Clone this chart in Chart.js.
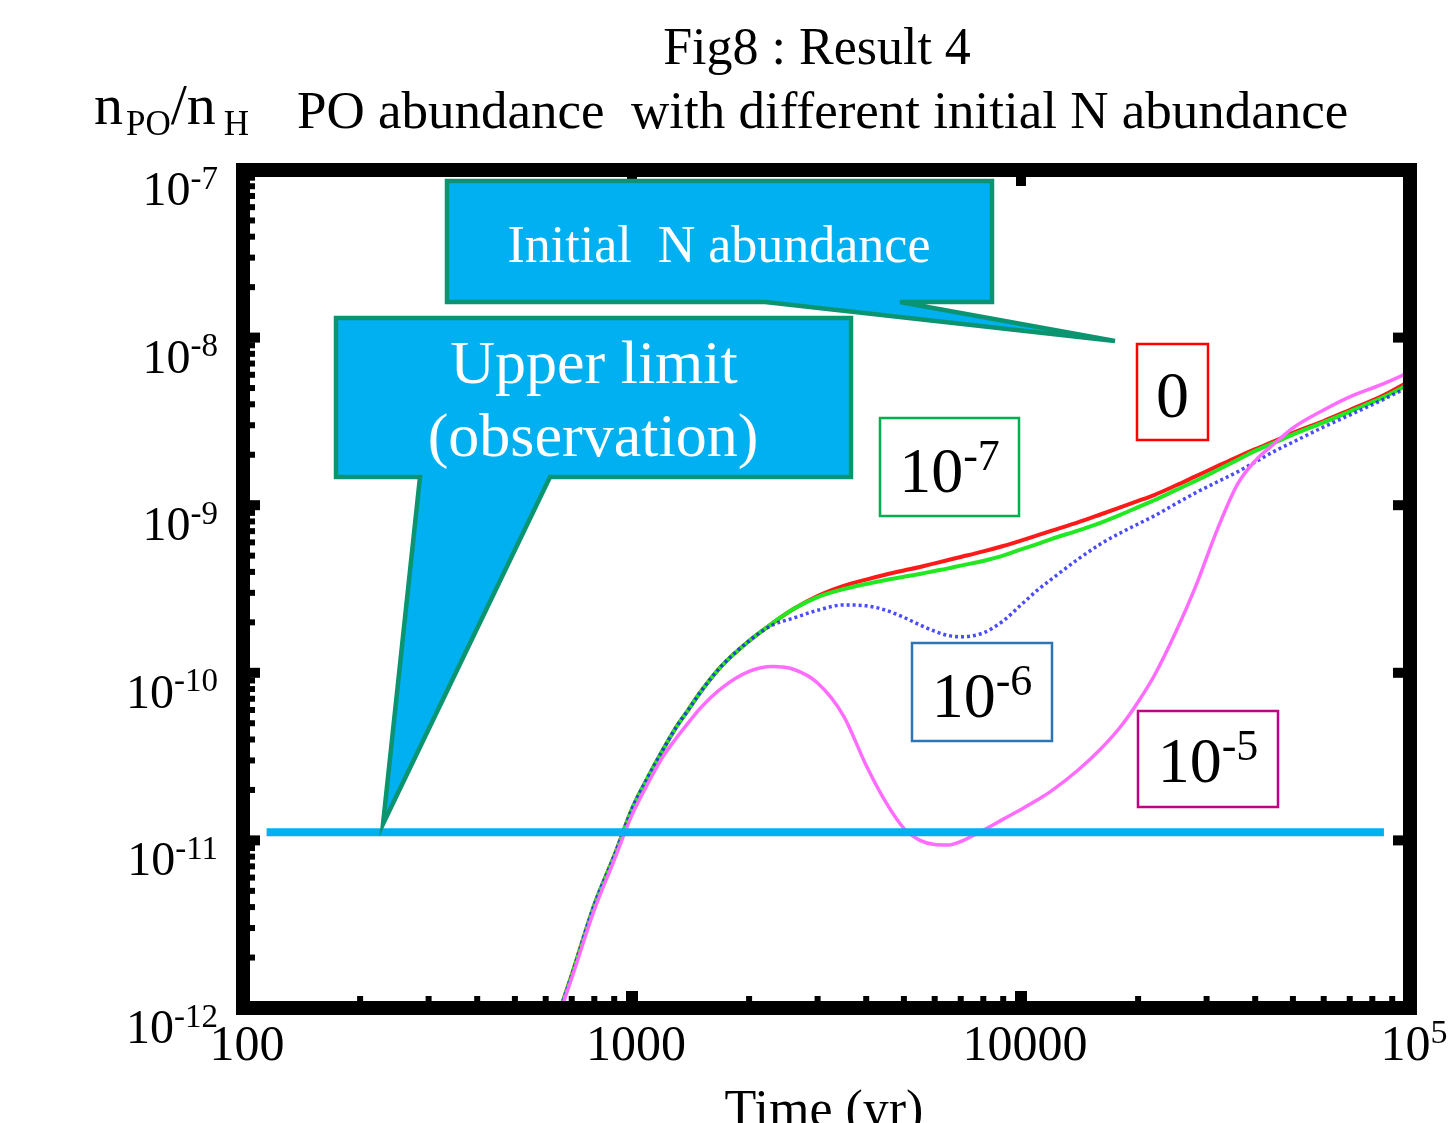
<!DOCTYPE html>
<html>
<head>
<meta charset="utf-8">
<script src="https://cdn.jsdelivr.net/npm/chart.js@4.4.1/dist/chart.umd.min.js"></script>
<style>
  html, body { margin: 0; padding: 0; background: #fff; }
  canvas { display: block; }
</style>
</head>
<body>
<canvas id="chart" width="1453" height="1123"></canvas>
<script>
// Time axis (yr) shared by all four runs
const years = [600, 700, 800, 900, 1000, 1100, 1200, 1300, 1400, 1500, 1700, 2000, 2300, 2600,
  3000, 3500, 4000, 4500, 5000, 5500, 6000, 6500, 7000, 8000, 9000, 10000, 11000, 12000,
  14000, 16000, 18000, 20000, 22000, 25000, 28000, 32000, 36000, 40000, 45000, 50000,
  60000, 70000, 85000, 100000];

// n(PO)/n(H) for each initial N abundance
const poN0 = [5.46e-13, 1.57e-12, 4.12e-12, 8.07e-12, 1.54e-11, 2.39e-11, 3.46e-11, 4.75e-11,
  6.08e-11, 7.68e-11, 1.10e-10, 1.55e-10, 1.98e-10, 2.40e-10, 2.87e-10, 3.30e-10, 3.60e-10,
  3.86e-10, 4.08e-10, 4.28e-10, 4.50e-10, 4.71e-10, 4.91e-10, 5.30e-10, 5.71e-10, 6.15e-10,
  6.60e-10, 7.05e-10, 7.90e-10, 8.80e-10, 9.70e-10, 1.06e-9, 1.15e-9, 1.31e-9, 1.48e-9,
  1.71e-9, 1.94e-9, 2.16e-9, 2.42e-9, 2.70e-9, 3.18e-9, 3.70e-9, 4.49e-9, 5.51e-9];
const poN1e7 = [5.46e-13, 1.57e-12, 4.12e-12, 8.07e-12, 1.54e-11, 2.39e-11, 3.46e-11, 4.75e-11,
  6.08e-11, 7.68e-11, 1.10e-10, 1.55e-10, 1.98e-10, 2.40e-10, 2.83e-10, 3.16e-10, 3.39e-10,
  3.58e-10, 3.74e-10, 3.89e-10, 4.05e-10, 4.20e-10, 4.36e-10, 4.65e-10, 5.00e-10, 5.45e-10,
  5.86e-10, 6.30e-10, 7.05e-10, 7.85e-10, 8.75e-10, 9.75e-10, 1.07e-9, 1.23e-9, 1.39e-9,
  1.62e-9, 1.86e-9, 2.11e-9, 2.37e-9, 2.64e-9, 3.12e-9, 3.62e-9, 4.38e-9, 5.30e-9];
const poN1e6 = [5.46e-13, 1.57e-12, 4.12e-12, 8.07e-12, 1.54e-11, 2.39e-11, 3.46e-11, 4.75e-11,
  6.08e-11, 7.68e-11, 1.10e-10, 1.55e-10, 1.93e-10, 2.12e-10, 2.36e-10, 2.54e-10, 2.51e-10,
  2.36e-10, 2.14e-10, 1.93e-10, 1.77e-10, 1.67e-10, 1.64e-10, 1.73e-10, 2.04e-10, 2.54e-10,
  3.10e-10, 3.63e-10, 4.75e-10, 5.86e-10, 6.83e-10, 7.73e-10, 8.63e-10, 1.02e-9, 1.18e-9,
  1.38e-9, 1.58e-9, 1.81e-9, 2.11e-9, 2.38e-9, 2.93e-9, 3.45e-9, 4.25e-9, 5.14e-9];
const poN1e5 = [5.30e-13, 1.51e-12, 3.85e-12, 7.64e-12, 1.42e-11, 2.20e-11, 3.15e-11, 4.08e-11,
  5.08e-11, 6.17e-11, 8.11e-11, 1.02e-10, 1.09e-10, 1.05e-10, 8.69e-11, 5.52e-11, 2.80e-11,
  1.68e-11, 1.18e-11, 1.00e-11, 9.45e-12, 9.39e-12, 9.85e-12, 1.15e-11, 1.34e-11, 1.53e-11,
  1.74e-11, 1.98e-11, 2.62e-11, 3.50e-11, 4.75e-11, 6.70e-11, 9.60e-11, 1.75e-10, 3.20e-10,
  7.20e-10, 1.33e-9, 1.84e-9, 2.35e-9, 2.89e-9, 3.70e-9, 4.43e-9, 5.28e-9, 6.24e-9];

// observed upper limit
const upperLimit = 1.12e-11;
const upperLimitSpan = [115, 85700];

// tick labels
const xTickValues = [100, 1000, 10000, 100000];
const xTickLabels = [['100', ''], ['1000', ''], ['10000', ''], ['10', '5']];
const yTickValues = [1e-7, 1e-8, 1e-9, 1e-10, 1e-11, 1e-12];
const yTickLabels = [['10', '-7'], ['10', '-8'], ['10', '-9'], ['10', '-10'], ['10', '-11'], ['10', '-12']];

const SERIF = '"Liberation Serif", "Times New Roman", serif';
const CALLOUT_FILL = '#00b0f0';
const CALLOUT_EDGE = '#0a9470';

function series(values) {
  return years.map((t, i) => ({ x: t, y: values[i] }));
}

function drawPow(ctx, base, sup, x, y, align, size) {
  const supSize = Math.round(size * 0.68);
  ctx.font = size + 'px ' + SERIF;
  const wb = ctx.measureText(base).width;
  ctx.font = supSize + 'px ' + SERIF;
  const ws = sup ? ctx.measureText(sup).width : 0;
  const total = wb + ws;
  let x0 = x;
  if (align === 'right') x0 = x - total;
  if (align === 'center') x0 = x - total / 2;
  ctx.textAlign = 'left';
  ctx.font = size + 'px ' + SERIF;
  ctx.fillText(base, x0, y);
  if (sup) {
    ctx.font = supSize + 'px ' + SERIF;
    ctx.fillText(sup, x0 + wb, y - size * 0.34);
  }
}

function labelBox(ctx, x0, y0, x1, y1, color, base, sup, size, baseline) {
  ctx.fillStyle = '#fff';
  ctx.fillRect(x0, y0, x1 - x0, y1 - y0);
  ctx.strokeStyle = color;
  ctx.lineWidth = 2.5;
  ctx.strokeRect(x0, y0, x1 - x0, y1 - y0);
  ctx.fillStyle = '#000';
  drawPow(ctx, base, sup, (x0 + x1) / 2, baseline, 'center', size);
}

function callout(ctx, pts) {
  ctx.beginPath();
  ctx.moveTo(pts[0][0], pts[0][1]);
  for (let i = 1; i < pts.length; i++) ctx.lineTo(pts[i][0], pts[i][1]);
  ctx.closePath();
  ctx.fillStyle = CALLOUT_FILL;
  ctx.fill();
  ctx.strokeStyle = CALLOUT_EDGE;
  ctx.lineWidth = 4.5;
  ctx.lineJoin = 'miter';
  ctx.stroke();
}

const decor = {
  id: 'decor',
  beforeDraw(chart) {
    const ctx = chart.ctx;
    ctx.save();
    ctx.fillStyle = '#fff';
    ctx.fillRect(0, 0, chart.width, chart.height);
    ctx.restore();
  },
  afterDatasetsDraw(chart) {
    const { ctx, chartArea: a, scales: { x, y } } = chart;
    ctx.save();
    // thick frame
    ctx.strokeStyle = '#000';
    ctx.lineWidth = 14;
    ctx.strokeRect(a.left, a.top, a.right - a.left, a.bottom - a.top);
    ctx.fillStyle = '#000';
    // x ticks (bottom minors + majors, top majors)
    for (let d = 100; d < 100000; d *= 10) {
      for (let n = 1; n <= 9; n++) {
        const px = x.getPixelForValue(n * d);
        if (n === 1) {
          if (d === 100) continue;
          ctx.fillRect(px - 6, a.bottom - 17, 12, 17);
          ctx.fillRect(px - 5, a.top, 10, 16);
        } else {
          ctx.fillRect(px - 3, a.bottom - 12, 6, 12);
        }
      }
    }
    // y ticks (left minors + majors, right majors)
    for (let d = 1e-12; d < 0.9e-7; d *= 10) {
      for (let n = 1; n <= 9; n++) {
        const py = y.getPixelForValue(n * d);
        if (n === 1) {
          if (d < 1.5e-12) continue;
          ctx.fillRect(a.left, py - 5, 17, 10);
          ctx.fillRect(a.right - 17, py - 5, 17, 10);
        } else {
          ctx.fillRect(a.left, py - 3, 12, 6);
        }
      }
    }
    ctx.restore();
  },
  afterDraw(chart) {
    const { ctx, scales: { x, y } } = chart;
    ctx.save();
    ctx.fillStyle = '#000';
    ctx.textBaseline = 'alphabetic';

    // titles
    ctx.textAlign = 'center';
    ctx.font = '52px ' + SERIF;
    ctx.fillText('Fig8 : Result 4', 817, 64);

    ctx.textAlign = 'left';
    let cx = 94;
    ctx.font = '58px ' + SERIF;
    ctx.fillText('n', cx, 124);
    cx += ctx.measureText('n').width + 3;
    ctx.font = '35px ' + SERIF;
    ctx.fillText('PO', cx, 135);
    cx += ctx.measureText('PO').width;
    ctx.font = '58px ' + SERIF;
    ctx.fillText('/n', cx, 124);
    cx += ctx.measureText('/n').width + 8;
    ctx.font = '35px ' + SERIF;
    ctx.fillText('H', cx, 135);
    ctx.font = '53px ' + SERIF;
    ctx.fillText('PO abundance  with different initial N abundance', 297, 128);

    // axis tick labels
    xTickValues.forEach((v, i) => {
      drawPow(ctx, xTickLabels[i][0], xTickLabels[i][1], x.getPixelForValue(v) + 4, 1060, 'center', 50);
    });
    yTickValues.forEach((v, i) => {
      drawPow(ctx, yTickLabels[i][0], yTickLabels[i][1], 218, y.getPixelForValue(v) + 35, 'right', 48);
    });

    // x axis title
    ctx.textAlign = 'center';
    ctx.font = '52px ' + SERIF;
    ctx.fillText('Time (yr)', 824, 1126);

    // callouts
    callout(ctx, [[447, 181], [992, 181], [992, 302], [900, 302], [1115, 341], [765, 302], [447, 302]]);
    callout(ctx, [[336, 318], [851, 318], [851, 477], [550, 477], [383, 824], [420, 477], [336, 477]]);
    ctx.fillStyle = '#fff';
    ctx.textAlign = 'center';
    ctx.font = '52px ' + SERIF;
    ctx.fillText('Initial  N abundance', 719, 262);
    ctx.font = '62px ' + SERIF;
    ctx.fillText('Upper limit', 594, 383);
    ctx.fillText('(observation)', 593, 456);

    // run labels
    labelBox(ctx, 1137, 344, 1208, 440, '#ff0000', '0', '', 66, 417);
    labelBox(ctx, 880, 418, 1019, 516, '#00b050', '10', '-7', 64, 492);
    labelBox(ctx, 912, 643, 1052, 741, '#2e75b6', '10', '-6', 64, 717);
    labelBox(ctx, 1138, 711, 1278, 807, '#c0008a', '10', '-5', 64, 782);
    ctx.restore();
  }
};

new Chart(document.getElementById('chart').getContext('2d'), {
  type: 'line',
  data: {
    datasets: [
      {
        label: 'Upper limit',
        data: upperLimitSpan.map(t => ({ x: t, y: upperLimit })),
        borderColor: '#00b0f0',
        borderWidth: 8,
        order: 0
      },
      {
        label: 'N = 1e-5',
        data: series(poN1e5),
        borderColor: '#ff6cff',
        borderWidth: 3.5,
        cubicInterpolationMode: 'monotone',
        order: 1
      },
      {
        label: 'N = 1e-6',
        data: series(poN1e6),
        borderColor: 'rgba(30, 30, 255, 0.8)',
        borderWidth: 3.5,
        borderDash: [3, 3],
        cubicInterpolationMode: 'monotone',
        order: 2
      },
      {
        label: 'N = 1e-7',
        data: series(poN1e7),
        borderColor: '#22e822',
        borderWidth: 4,
        cubicInterpolationMode: 'monotone',
        order: 3
      },
      {
        label: 'N = 0',
        data: series(poN0),
        borderColor: '#ff1a1a',
        borderWidth: 4,
        cubicInterpolationMode: 'monotone',
        order: 4
      }
    ]
  },
  options: {
    responsive: false,
    animation: false,
    devicePixelRatio: 1,
    layout: { padding: { left: 243, top: 170, right: 43, bottom: 115 } },
    elements: { point: { radius: 0 } },
    plugins: {
      legend: { display: false },
      title: { display: false },
      tooltip: { enabled: false }
    },
    scales: {
      x: { type: 'logarithmic', min: 100, max: 100000, display: false },
      y: { type: 'logarithmic', min: 1e-12, max: 1e-7, display: false }
    }
  },
  plugins: [decor]
});
</script>
</body>
</html>
